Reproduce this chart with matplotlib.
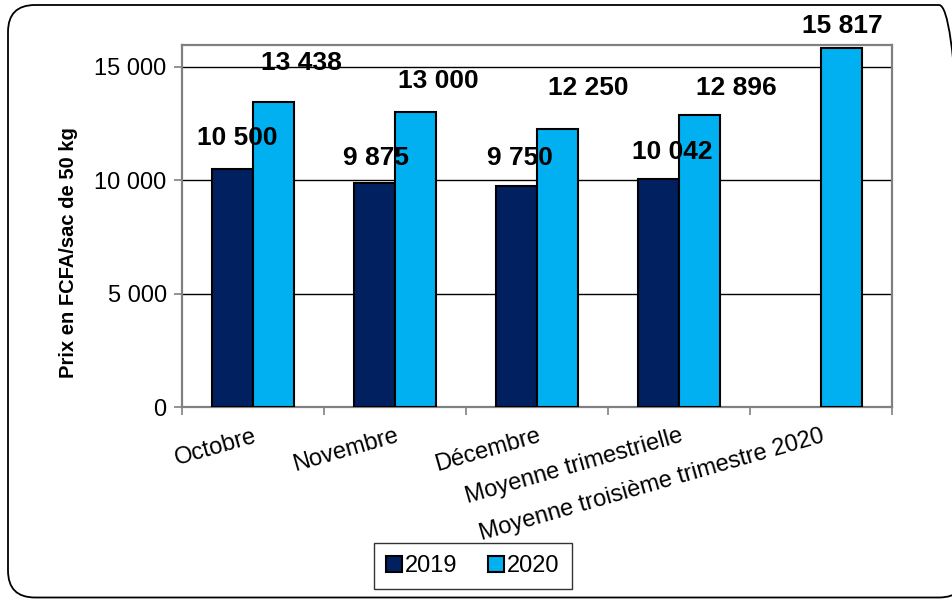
import numpy as np
import matplotlib
matplotlib.use("Agg")
import matplotlib.pyplot as plt
from matplotlib.patches import FancyBboxPatch

categories = ["Octobre", "Novembre", "Décembre", "Moyenne trimestrielle",
              "Moyenne troisième trimestre 2020"]
v2019 = [10500, 9875, 9750, 10042, np.nan]
v2020 = [13438, 13000, 12250, 12896, 15817]
series_names = ["2019", "2020"]
labels2019 = ["10 500", "9 875", "9 750", "10 042", ""]
labels2020 = ["13 438", "13 000", "12 250", "12 896", "15 817"]
yticks = [0, 5000, 10000, 15000]
ytick_labels = ["0", "5 000", "10 000", "15 000"]

# label offsets (pixels) relative to top centre of each bar
off2019 = [(5, 31), (2, 25), (4, 28), (14, 27), (0, 0)]
off2020 = [(28, 39), (23, 31), (31, 41), (37, 27), (1, 22)]

col2019 = "#002060"
col2020 = "#00B0F0"
W, H = 952, 599
fig = plt.figure(figsize=(W / 100, H / 100), dpi=100)

# background axes in pixel units for the rounded frame
bg = fig.add_axes([0, 0, 1, 1], zorder=-10)
bg.set_xlim(0, W)
bg.set_ylim(0, H)
bg.axis("off")
frame = FancyBboxPatch((8, 1.5), 966 - 8, 594 - 1.5,
                       boxstyle="round,pad=0,rounding_size=27",
                       fill=False, edgecolor="black", linewidth=1.3,
                       clip_on=False)
bg.add_patch(frame)

ax = fig.add_axes([182 / W, 1 - 407 / H, (892 - 182) / W, (407 - 45) / H])
x = np.arange(len(categories))
bw = 0.29
b1 = ax.bar(x - bw / 2, v2019, bw, color=col2019, edgecolor="black",
            linewidth=1.5, label=series_names[0], zorder=3)
b2 = ax.bar(x + bw / 2, v2020, bw, color=col2020, edgecolor="black",
            linewidth=1.5, label=series_names[1], zorder=3)

lab_font = dict(fontsize=19, fontweight="bold", family="Liberation Sans",
                ha="center", va="center", zorder=5)
for i in range(len(categories)):
    if not np.isnan(v2019[i]):
        ax.annotate(labels2019[i], (x[i] - bw / 2, v2019[i]),
                    xytext=off2019[i], textcoords="offset pixels", **lab_font)
    ax.annotate(labels2020[i], (x[i] + bw / 2, v2020[i]),
                xytext=off2020[i], textcoords="offset pixels",
                annotation_clip=False, **lab_font)

ax.set_xlim(-0.5, len(categories) - 0.5)
ax.set_ylim(0, 15970)
ax.set_yticks(yticks)
ax.set_yticklabels(ytick_labels, family="Liberation Sans", fontsize=17)
ax.yaxis.grid(True, color="black", linewidth=1.0, zorder=0)
ax.set_axisbelow(True)
ax.tick_params(axis="y", length=6, width=1.2, color="#808080", pad=5)

ax.set_xticks(x)
ax.set_xticklabels(categories, family="Liberation Sans", fontsize=17,
                   rotation=16, ha="right", rotation_mode="anchor")
ax.tick_params(axis="x", which="major", length=0, pad=13)
ax.set_xticks(np.arange(-0.5, len(categories), 1.0), minor=True)
ax.tick_params(axis="x", which="minor", length=6, width=1.2, color="#808080")

for s in ax.spines.values():
    s.set_color("#808080")
    s.set_linewidth(1.6)

ax.set_ylabel("Prix en FCFA/sac de 50 kg", family="Liberation Sans",
              fontsize=14.5, fontweight="bold")
ax.yaxis.set_label_coords(-0.147, 0.428)

leg = fig.legend(handles=[b1, b2], labels=series_names, loc="center",
                 bbox_to_anchor=(473 / W, 1 - 566 / H), ncol=2,
                 prop={"family": "Liberation Sans", "size": 17},
                 frameon=True, fancybox=False, edgecolor="black",
                 handlelength=0.65, handleheight=0.65, handletextpad=0.15,
                 columnspacing=1.3, borderpad=0.5)
leg.get_frame().set_linewidth(1.0)

fig.savefig("out.png", dpi=100)
